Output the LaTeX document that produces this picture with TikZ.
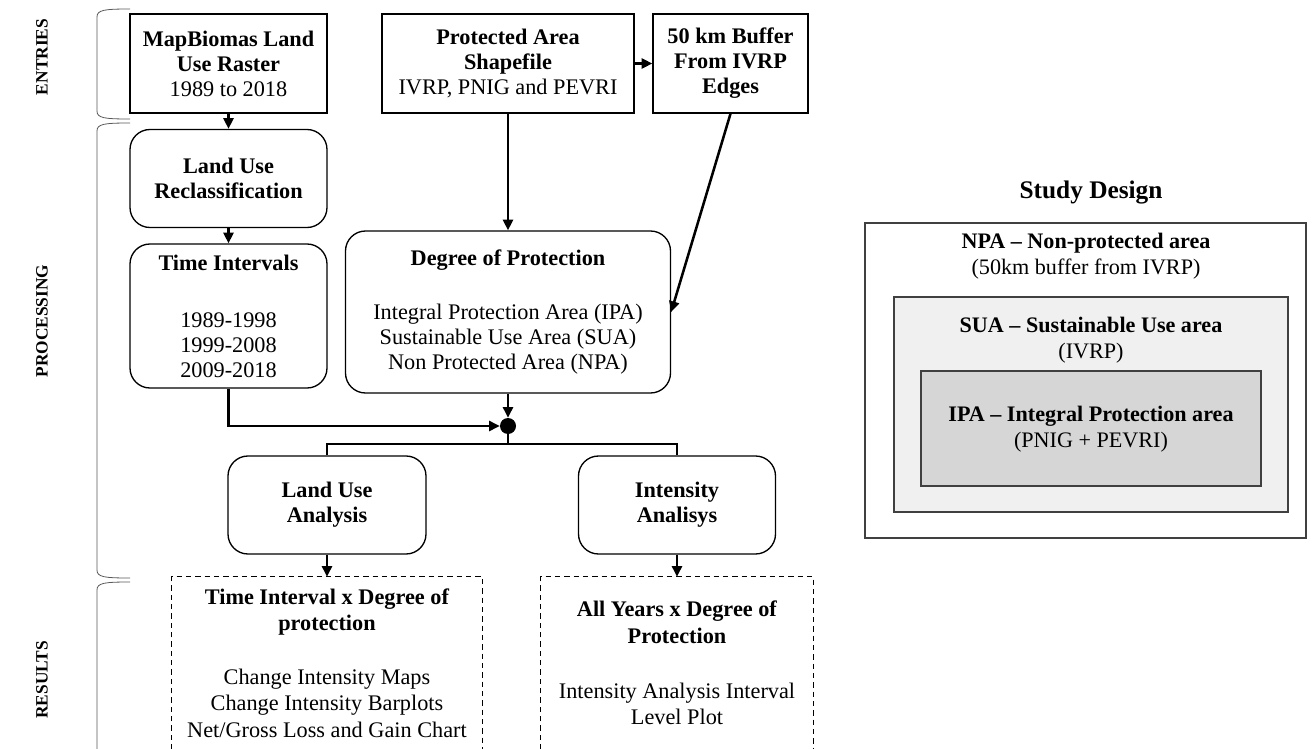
\documentclass[tikz,border=0pt]{standalone}
\usepackage{fontspec}
\setmainfont{Liberation Serif}
\usepackage{tikz}
\usetikzlibrary{arrows.meta}
\newdimen\px \px=0.75pt
\tikzset{
  box/.style={draw,line width=1pt,align=center,inner sep=2pt,font=\fontsize{16.7}{18.75}\selectfont},
  rbox/.style={box,rounded corners=15pt},
  resbox/.style={align=center,inner sep=0pt,font=\fontsize{16.7}{20}\selectfont},
  resline/.style={line width=0.8pt,dash pattern=on 4pt off 3pt},
  conn/.style={line width=1.9pt,-{Triangle[length=8pt,width=7.5pt]}},
  link/.style={line width=1.9pt},
  lbl/.style={rotate=90,font=\bfseries\fontsize{13}{15}\selectfont},
  brc/.style={draw=black!65,line width=0.6pt},
  sdbox/.style={draw=black!75,line width=0.8pt},
  sdtxt/.style={align=center,font=\fontsize{16.6}{19.5}\selectfont},
}
\begin{document}
\begin{tikzpicture}[x=0.75pt,y=-0.75pt]
  \useasboundingbox (0,0) rectangle (1314,749);

  % side labels and braces
  \node[lbl] (l_ent) at (42,57) {ENTRIES};
  \node[lbl] (l_proc) at (42,321) {PROCESSING};
  \node[lbl] (l_res) at (42,680) {RESULTS};
  \foreach \t/\b in {9/119,123/578,582/800}
    \draw[brc] (130,\t) .. controls (104,\t) and (97,\t+1) .. (97,\t+8) -- (97,\b-8)
      .. controls (97,\b-1) and (104,\b) .. (130,\b);

  % entries
  \node[box,minimum width=197\px,minimum height=99\px] (map_r) at (228.5,63.5)
    {\textbf{MapBiomas Land}\\\textbf{Use Raster}\\1989 to 2018};
  \node[box,minimum width=252\px,minimum height=99\px] (pa_shp) at (508,63.5)
    {\textbf{Protected Area}\\\textbf{Shapefile}\\IVRP, PNIG and PEVRI};
  \node[box,minimum width=155\px,minimum height=99\px] (buf) at (730.5,63.5)
    {\textbf{50 km Buffer}\\\textbf{From IVRP}\\\textbf{Edges}};

  % processing
  \node[rbox,minimum width=197\px,minimum height=98\px] (lu_rec) at (228.5,178.5)
    {\textbf{Land Use}\\\textbf{Reclassification}};
  \node[rbox,minimum width=197\px,minimum height=144\px] (t_int) at (228.5,316)
    {\textbf{Time Intervals}\\[24pt]1989-1998\\1999-2008\\2009-2018};
  \node[rbox,minimum width=325\px,minimum height=162\px] (deg_p) at (508,312)
    {\textbf{Degree of Protection}\\[22pt]Integral Protection Area (IPA)\\Sustainable Use Area (SUA)\\Non Protected Area (NPA)};
  \node[circle,fill,inner sep=0pt,minimum size=16\px] (jn) at (508,426) {};
  \coordinate (br) at (508,444);
  \node[rbox,minimum width=198\px,minimum height=98\px] (lu_an) at (327,505)
    {\textbf{Land Use}\\\textbf{Analysis}};
  \node[rbox,minimum width=197\px,minimum height=98\px] (int_an) at (677,505)
    {\textbf{Intensity}\\\textbf{Analisys}};

  % results
  \node[resbox,minimum width=310\px,minimum height=172\px] (res_lu) at (327,663)
    {\textbf{Time Interval x Degree of}\\\textbf{protection}\\[20pt]Change Intensity Maps\\Change Intensity Barplots\\Net/Gross Loss and Gain Chart};
  \node[resbox,minimum width=272\px,minimum height=172\px] (res_int) at (677,663)
    {\textbf{All Years x Degree of}\\\textbf{Protection}\\[21pt]Intensity Analysis Interval\\Level Plot};
  \draw[resline] (res_lu.south west) -- (res_lu.north west) -- (res_lu.north east) -- (res_lu.south east);
  \draw[resline] (res_int.south west) -- (res_int.north west) -- (res_int.north east) -- (res_int.south east);

  % connectors
  \draw[conn] (map_r) -- (lu_rec);
  \draw[conn] (lu_rec) -- (t_int);
  \draw[conn] (pa_shp) -- (buf);
  \draw[conn] (pa_shp) -- (deg_p);
  \draw[conn] (buf.south) -- (deg_p.east);
  \draw[conn] (deg_p) -- (jn);
  \draw[conn] (t_int.south) |- (jn.west);
  \draw[link] (jn.south) -- (br);
  \draw[link] (br) -| (lu_an.north);
  \draw[link] (br) -| (int_an.north);
  \draw[conn] (lu_an) -- (res_lu.north);
  \draw[conn] (int_an) -- (res_int.north);

  % study design
  \node[font=\bfseries\fontsize{19}{22}\selectfont] (sd_t) at (1091,193) {Study Design};
  \node[sdbox,fill=white,minimum width=441\px,minimum height=315\px] (npa) at (1085.5,380.5) {};
  \node[sdbox,fill=black!6,minimum width=394\px,minimum height=215\px] (sua) at (1091,404.5) {};
  \node[sdbox,fill=black!16,minimum width=340\px,minimum height=115\px] (ipa) at (1091,428.5) {};
  \node[sdtxt] (npa_t) at (1086,256) {\textbf{NPA – Non-protected area}\\(50km buffer from IVRP)};
  \node[sdtxt] (sua_t) at (1091,340) {\textbf{SUA – Sustainable Use area}\\(IVRP)};
  \node[sdtxt] (ipa_t) at (1091,429) {\textbf{IPA – Integral Protection area}\\(PNIG + PEVRI)};
\end{tikzpicture}
\end{document}
